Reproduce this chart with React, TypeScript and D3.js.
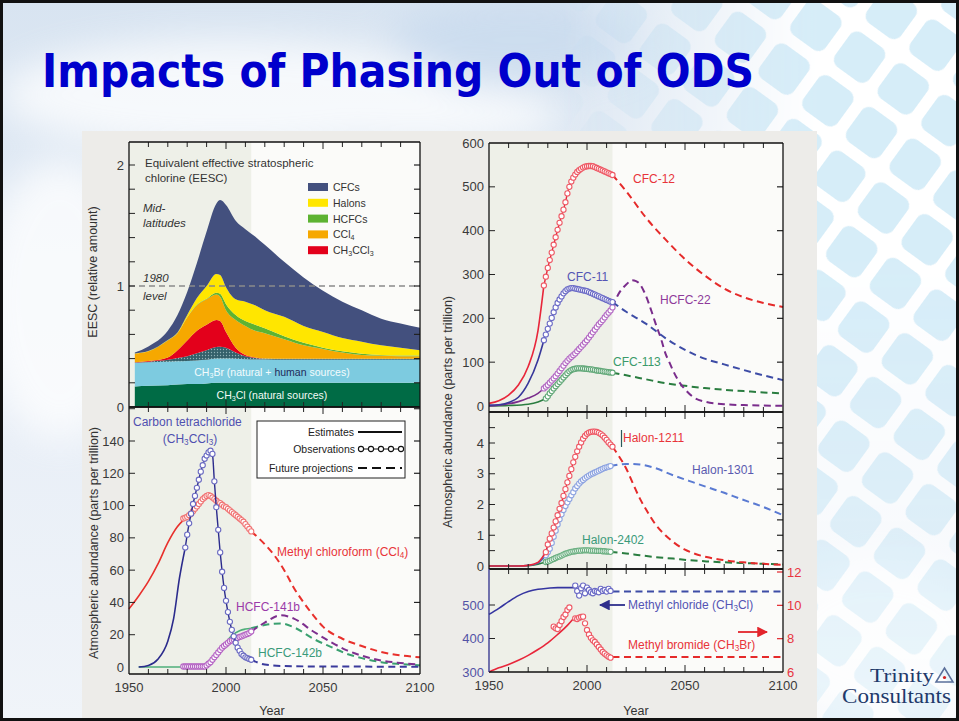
import React from 'react';
import * as d3 from 'd3';

type Pt = [number, number];

const W = 959;
const H = 721;
const FONT = "'Liberation Sans', Arial, Helvetica, sans-serif";

// ---------- EESC (mid-latitudes), cumulative top of each layer ----------
const eescYears = [1953, 1960, 1970, 1975, 1980, 1985, 1990, 1995, 1997, 2000, 2005, 2010, 2015, 2020, 2030, 2040, 2050, 2060, 2070, 2080, 2090, 2100];
const eescCH3Cl = [0.17, 0.175, 0.18, 0.185, 0.19, 0.19, 0.195, 0.2, 0.2, 0.2, 0.2, 0.2, 0.2, 0.2, 0.2, 0.2, 0.2, 0.2, 0.2, 0.2, 0.2, 0.2];
const eescCH3Br = [0.365, 0.37, 0.375, 0.378, 0.38, 0.385, 0.39, 0.4, 0.4, 0.4, 0.398, 0.395, 0.393, 0.392, 0.39, 0.39, 0.39, 0.39, 0.39, 0.39, 0.39, 0.39];
const eescOther = [0.368, 0.375, 0.39, 0.405, 0.42, 0.445, 0.47, 0.495, 0.497, 0.49, 0.45, 0.42, 0.405, 0.4, 0.398, 0.398, 0.398, 0.398, 0.398, 0.398, 0.398, 0.398];
const eescCH3CCl3 = [0.37, 0.38, 0.41, 0.47, 0.55, 0.63, 0.68, 0.72, 0.71, 0.62, 0.49, 0.43, 0.41, 0.4, 0.398, 0.398, 0.398, 0.398, 0.398, 0.398, 0.398, 0.398];
const eescCCl4 = [0.44, 0.46, 0.55, 0.61, 0.74, 0.84, 0.89, 0.93, 0.91, 0.8, 0.72, 0.67, 0.63, 0.61, 0.56, 0.51, 0.48, 0.45, 0.43, 0.425, 0.42, 0.42];
const eescHCFC = [0.441, 0.461, 0.551, 0.611, 0.742, 0.845, 0.895, 0.945, 0.935, 0.85, 0.76, 0.71, 0.68, 0.65, 0.585, 0.53, 0.49, 0.46, 0.44, 0.43, 0.425, 0.425];
const eescHalon = [0.442, 0.462, 0.553, 0.615, 0.76, 0.9, 1.0, 1.1, 1.09, 0.99, 0.89, 0.87, 0.84, 0.8, 0.745, 0.67, 0.62, 0.57, 0.54, 0.51, 0.49, 0.47];
const eescCFC = [0.45, 0.5, 0.63, 0.76, 0.95, 1.19, 1.45, 1.68, 1.71, 1.67, 1.54, 1.47, 1.41, 1.34, 1.2, 1.07, 0.96, 0.87, 0.8, 0.73, 0.69, 0.655];

// ---------- lower-left panel (ppt) ----------
const ccl4Est: Pt[] = [[1955, 0], [1960, 1], [1965, 5], [1970, 16], [1973, 30], [1976, 55], [1979, 74]];
const ccl4ObsStart = 1979;
const ccl4Obs = [74, 82, 89, 95, 101, 106, 111, 116, 121, 125, 129, 131, 133, 134, 132, 115, 99, 85, 71, 59, 49, 41, 34, 28, 23, 19, 15, 12, 10, 8, 7, 6, 5.5, 5, 4.5];
const ccl4Proj: Pt[] = [[2013, 4.5], [2020, 1.5], [2030, 0.6], [2050, 0.3], [2100, 0.2]];

const mcfEst: Pt[] = [[1950, 36], [1955, 44], [1960, 53], [1965, 64], [1970, 77], [1975, 87], [1978, 91]];
const mcfObsStart = 1978;
const mcfObs = [92, 92.5, 93, 94, 95, 96.5, 98, 99.5, 101, 102.5, 104, 105, 106, 106.5, 106, 105, 104, 103, 102, 101.5, 100.5, 99.5, 99, 98, 97, 96, 95, 94, 93, 92, 91, 90, 88.5, 87, 85.5, 84];
const mcfProj: Pt[] = [[2013, 84], [2020, 76], [2025, 69], [2030, 60], [2035, 49], [2040, 40], [2045, 32], [2050, 25], [2060, 17.5], [2070, 13], [2080, 9.3], [2090, 7.2], [2100, 6]];

const h141bObsStart = 1978;
const h141bObs = [0.3, 0.3, 0.3, 0.3, 0.3, 0.3, 0.3, 0.3, 0.3, 0.3, 0.3, 0.3, 1, 2, 3, 4.5, 6, 7.5, 9, 10.5, 12, 13, 14, 15, 16, 16.5, 17, 17.5, 18, 18.6, 19, 19.5, 20, 20.5, 21, 22];
const h141bProj: Pt[] = [[2013, 22], [2020, 27.5], [2028, 32], [2035, 30], [2045, 22], [2054, 15.5], [2062, 10.5], [2070, 7], [2080, 4], [2090, 2.5], [2100, 1.5]];
const h142bEst: Pt[] = [[1955, 0], [1985, 0], [1990, 0.5], [1992, 1.5], [1995, 7], [1998, 12.5], [2000, 15.5], [2003, 19.5], [2007, 22.5], [2010, 23.5], [2013, 24]];
const h142bProj: Pt[] = [[2013, 24], [2020, 26], [2028, 27], [2036, 24], [2045, 17.5], [2054, 12.5], [2062, 8.3], [2070, 5.5], [2080, 3], [2090, 1.8], [2100, 1]];

// ---------- upper-right panel (ppt) ----------
const cfc12Est: Pt[] = [[1950, 6], [1955, 12], [1960, 25], [1965, 48], [1970, 90], [1975, 172], [1978, 275]];
const cfc12ObsStart = 1978;
const cfc12Obs = [275, 295, 315, 333, 350, 368, 385, 402, 418, 433, 448, 465, 485, 500, 512, 521, 528, 534, 538, 541, 544, 546, 547, 547.5, 547.5, 547, 545, 543, 541, 539, 537, 535, 533, 531, 529, 527];
const cfc12Proj: Pt[] = [[2013, 527], [2020, 490], [2030, 430], [2040, 380], [2050, 335], [2060, 298], [2070, 268], [2080, 248], [2090, 235], [2100, 226]];

const cfc11Est: Pt[] = [[1950, 2], [1955, 3], [1960, 8], [1965, 20], [1970, 52], [1975, 105], [1978, 150]];
const cfc11ObsStart = 1978;
const cfc11Obs = [150, 163, 176, 188, 201, 214, 225, 235, 243, 250, 257, 262, 266, 268, 269, 269, 268, 267, 266, 265, 264, 263, 262, 260, 258, 256, 254, 252, 250, 248, 246, 244, 242, 240, 238, 237];
const cfc11Proj: Pt[] = [[2013, 237], [2020, 215], [2030, 188], [2040, 155], [2050, 128], [2060, 108], [2070, 95], [2080, 82], [2090, 70], [2100, 59]];

const hcfc22Est: Pt[] = [[1950, 0], [1955, 2], [1960, 5], [1965, 10], [1970, 18], [1975, 29], [1978, 40]];
const hcfc22ObsStart = 1978;
const hcfc22Obs = [40, 44, 48, 53, 58, 63, 68, 74, 80, 86, 92, 98, 103, 108, 112, 116, 120, 125, 130, 135, 140, 145, 150, 156, 162, 168, 174, 180, 186, 191, 196, 202, 208, 213, 218, 225];
const hcfc22Proj: Pt[] = [[2013, 225], [2016, 255], [2020, 277], [2023, 287], [2025, 285], [2027, 278], [2030, 252], [2033, 215], [2035, 188], [2038, 150], [2040, 120], [2042, 100], [2044, 80], [2047, 55], [2050, 38], [2054, 21], [2060, 10], [2070, 4], [2080, 2], [2090, 1], [2100, 0.5]];

const cfc113Est: Pt[] = [[1950, 0], [1960, 1], [1970, 4], [1975, 9], [1979, 17]];
const cfc113ObsStart = 1979;
const cfc113Obs = [17, 22, 29, 34, 40, 45, 50, 55, 60, 65, 70, 75, 79, 82, 84, 85, 86, 86, 86, 85.5, 85, 84.5, 84, 83.5, 83, 82, 81, 80.5, 80, 79, 78.5, 78, 77, 76.5, 76];
const cfc113Proj: Pt[] = [[2013, 76], [2020, 70], [2030, 61], [2040, 52], [2050, 46], [2060, 41], [2070, 37], [2080, 34], [2090, 31], [2100, 29]];

// ---------- middle-right panel: halons (ppt) ----------
const h1211Est: Pt[] = [[1950, 0], [1965, 0], [1970, 0.02], [1975, 0.12], [1979, 0.45]];
const h1211ObsStart = 1979;
const h1211Obs = [0.45, 0.7, 0.89, 1.06, 1.25, 1.45, 1.65, 1.86, 2.05, 2.28, 2.5, 2.72, 2.93, 3.15, 3.37, 3.55, 3.73, 3.88, 4.02, 4.14, 4.23, 4.3, 4.34, 4.36, 4.37, 4.37, 4.36, 4.33, 4.29, 4.24, 4.17, 4.1, 4.02, 3.95, 3.88];
const h1211Proj: Pt[] = [[2013, 3.88], [2016, 3.6], [2020, 3.17], [2024, 2.6], [2027, 2.19], [2030, 1.85], [2035, 1.35], [2040, 1.0], [2044, 0.78], [2050, 0.53], [2055, 0.4], [2061, 0.29], [2070, 0.19], [2078, 0.13], [2090, 0.07], [2100, 0.04]];

const h1301Est: Pt[] = [[1950, 0], [1965, 0], [1970, 0.02], [1975, 0.1], [1979, 0.35]];
const h1301ObsStart = 1979;
const h1301Obs = [0.35, 0.45, 0.56, 0.75, 0.95, 1.15, 1.35, 1.52, 1.68, 1.82, 1.95, 2.07, 2.18, 2.3, 2.4, 2.52, 2.6, 2.68, 2.75, 2.8, 2.85, 2.9, 2.94, 2.98, 3.01, 3.04, 3.07, 3.1, 3.13, 3.16, 3.19, 3.21, 3.23, 3.25];
const h1301Proj: Pt[] = [[2012, 3.25], [2020, 3.32], [2027, 3.3], [2035, 3.18], [2044, 2.95], [2052, 2.77], [2061, 2.57], [2070, 2.38], [2078, 2.19], [2090, 1.92], [2100, 1.65]];

const h2402Est: Pt[] = [[1950, 0], [1965, 0], [1970, 0.01], [1975, 0.06], [1979, 0.13]];
const h2402ObsStart = 1979;
const h2402Obs = [0.13, 0.15, 0.17, 0.2, 0.23, 0.26, 0.29, 0.31, 0.34, 0.37, 0.4, 0.42, 0.44, 0.46, 0.47, 0.48, 0.49, 0.5, 0.5, 0.51, 0.51, 0.51, 0.51, 0.5, 0.5, 0.5, 0.49, 0.49, 0.49, 0.48, 0.48, 0.47, 0.47, 0.46];
const h2402Proj: Pt[] = [[2012, 0.46], [2020, 0.41], [2027, 0.35], [2035, 0.29], [2044, 0.24], [2052, 0.19], [2061, 0.15], [2070, 0.12], [2078, 0.1], [2090, 0.07], [2100, 0.05]];

// ---------- lower-right panel: methyl chloride (left axis) / methyl bromide (right axis) ----------
const mclEst: Pt[] = [[1950, 472], [1955, 490], [1960, 510], [1965, 528], [1970, 540], [1975, 547], [1980, 550], [1985, 552], [1994, 552]];
const mclObsStart = 1994;
const mclObs = [558, 542, 528, 550, 558, 535, 552, 545, 538, 535, 542, 540, 538, 548, 542, 545, 540, 548, 542];
const mclProj: Pt[] = [[2013, 540], [2100, 540]];

const mbrEst: Pt[] = [[1950, 6.0], [1955, 6.25], [1960, 6.45], [1965, 6.7], [1970, 7.0], [1975, 7.35], [1980, 7.75], [1985, 8.25], [1990, 8.8], [1993, 9.2]];
const mbrObs: Pt[] = [[1983, 8.72], [1984, 8.62], [1985, 8.58], [1986, 8.82], [1987, 9.05], [1988, 9.3], [1989, 9.45], [1990, 9.72], [1991, 9.87], [1994, 9.22], [1995, 9.18], [1996, 9.26], [1997, 9.3], [1998, 9.32], [1999, 8.92], [2000, 8.52], [2001, 8.25], [2002, 8.05], [2003, 7.9], [2004, 7.8], [2005, 7.65], [2006, 7.5], [2007, 7.35], [2008, 7.2], [2009, 7.1], [2010, 7.0], [2011, 6.92], [2012, 6.86]];
const mbrProj: Pt[] = [[2013, 6.9], [2100, 6.9]];

const xTickYears = d3.range(1950, 2101, 10);
const xLabelYears = [1950, 2000, 2050, 2100];
const SHADE_END = 2013;

const fromYear = (start: number, vals: number[]): Pt[] => vals.map((v, i) => [start + i, v]);

// scales
const xL = d3.scaleLinear().domain([1950, 2100]).range([129, 420]);
const xR = d3.scaleLinear().domain([1950, 2100]).range([489, 783]);
const yEESC = d3.scaleLinear().domain([0, 2]).range([407, 165]);
const yBL = d3.scaleLinear().domain([0, 140]).range([667, 441]);
const yRT = d3.scaleLinear().domain([0, 600]).range([406, 143]);
const yRM = d3.scaleLinear().domain([0, 4]).range([566, 443]);
const yRBl = d3.scaleLinear().domain([300, 500]).range([672, 605]);
const yRBr = d3.scaleLinear().domain([6, 12]).range([672, 572]);

type Scale = d3.ScaleLinear<number, number>;

function Panel({ x, top, bottom }: { x: Scale; top: number; bottom: number }) {
  const [x0, x1] = x.range();
  const xs = x(SHADE_END);
  return (
    <g>
      <rect x={x0} y={top} width={xs - x0} height={bottom - top} fill="#eef0e8" />
      <rect x={xs} y={top} width={x1 - xs} height={bottom - top} fill="#fbfbf9" />
    </g>
  );
}

function Frame({ x, top, bottom, yTicks = [], yTicksRight, rightTickColor = '#222', leftColor = '#111' }: {
  x: Scale; top: number; bottom: number; yTicks?: number[]; yTicksRight?: number[]; rightTickColor?: string; leftColor?: string;
}) {
  const [x0, x1] = x.range();
  const right = yTicksRight ?? yTicks;
  return (
    <g>
      {xTickYears.slice(1, -1).map(yr => {
        const len = yr % 50 === 0 ? 7 : 5;
        return (
          <g key={yr}>
            <line x1={x(yr)} x2={x(yr)} y1={top} y2={top + len} stroke="#222" strokeWidth={1} />
            <line x1={x(yr)} x2={x(yr)} y1={bottom} y2={bottom - len} stroke="#222" strokeWidth={1} />
          </g>
        );
      })}
      {yTicks.map((py, i) => (
        <line key={'l' + i} x1={x0} x2={x0 + 6} y1={py} y2={py} stroke="#222" strokeWidth={1} />
      ))}
      {right.map((py, i) => (
        <line key={'r' + i} x1={x1} x2={x1 - 6} y1={py} y2={py} stroke={rightTickColor} strokeWidth={1.2} />
      ))}
      <line x1={x0} x2={x1} y1={top} y2={top} stroke="#111" strokeWidth={1.3} />
      <line x1={x0} x2={x1} y1={bottom} y2={bottom} stroke="#111" strokeWidth={1.3} />
      <line x1={x0} x2={x0} y1={top} y2={bottom} stroke={leftColor} strokeWidth={1.3} />
      <line x1={x1} x2={x1} y1={top} y2={bottom} stroke="#111" strokeWidth={1.3} />
    </g>
  );
}

function Series({ x, y, est, obs, proj, color, obsColor, projColor, obsLine = true }: {
  x: Scale; y: Scale; est?: Pt[]; obs?: Pt[]; proj?: Pt[]; color: string; obsColor: string; projColor?: string; obsLine?: boolean;
}) {
  const line = d3.line<Pt>().x(d => x(d[0])).y(d => y(d[1])).curve(d3.curveMonotoneX);
  return (
    <g>
      {proj && <path d={line(proj) ?? ''} fill="none" stroke={projColor ?? color} strokeWidth={2} strokeDasharray="7 4.5" />}
      {est && <path d={line(est) ?? ''} fill="none" stroke={color} strokeWidth={1.6} />}
      {obs && obsLine && <path d={line(obs) ?? ''} fill="none" stroke={color} strokeWidth={1.4} />}
      {obs && obs.map((d, i) => (
        <circle key={i} cx={x(d[0])} cy={y(d[1])} r={2.6} fill="#fff" stroke={obsColor} strokeWidth={1.1} />
      ))}
    </g>
  );
}

const Sub = ({ children }: { children: React.ReactNode }) => (
  <tspan fontSize="0.68em" dy="0.25em">{children}</tspan>
);
const Up = ({ children }: { children: React.ReactNode }) => <tspan dy="-0.17em">{children}</tspan>;

export default function App() {
  const eescLayers = [
    { top: eescCH3Cl, fill: '#006b45' },
    { top: eescCH3Br, fill: '#7dcbe0' },
    { top: eescOther, fill: 'url(#hatch)' },
    { top: eescCH3CCl3, fill: '#e3001b' },
    { top: eescCCl4, fill: '#f6a800' },
    { top: eescHCFC, fill: '#5db332' },
    { top: eescHalon, fill: '#ffe600' },
    { top: eescCFC, fill: '#43507e' },
  ];
  const eescLegend = [
    { label: 'CFCs', fill: '#43507e' },
    { label: 'Halons', fill: '#ffe600' },
    { label: 'HCFCs', fill: '#5db332' },
    { label: 'CCl', sub: '4', fill: '#f6a800' },
    { label: 'CH', sub: '3', rest: 'CCl', sub2: '3', fill: '#e3001b' },
  ];

  const tickText = { fontFamily: FONT, fontSize: 13, fill: '#3a3a3a' } as const;

  return (
    <div style={{ position: 'absolute', left: 0, top: 0, width: W, height: H }}>
      <svg width={W} height={H} viewBox={`0 0 ${W} ${H}`} style={{ display: 'block' }}>
        <defs>
          <linearGradient id="sky" x1="0" y1="0" x2="0" y2="1">
            <stop offset="0" stopColor="#d8e4f1" />
            <stop offset="0.45" stopColor="#e6edf6" />
            <stop offset="1" stopColor="#f0f4f9" />
          </linearGradient>
          <filter id="blur" x="-50%" y="-50%" width="200%" height="200%">
            <feGaussianBlur stdDeviation="18" />
          </filter>
          <pattern id="lattice" width="54" height="54" patternUnits="userSpaceOnUse" patternTransform="rotate(36)">
            <rect width="54" height="54" fill="#ffffff" />
            <rect x="6" y="6" width="42" height="42" rx="9" fill="#d6edf8" />
          </pattern>
          <linearGradient id="latFade" x1="560" y1="0" x2="820" y2="0" gradientUnits="userSpaceOnUse">
            <stop offset="0" stopColor="#fff" stopOpacity="0" />
            <stop offset="1" stopColor="#fff" stopOpacity="1" />
          </linearGradient>
          <linearGradient id="latFadeV" x1="0" y1="250" x2="0" y2="700" gradientUnits="userSpaceOnUse">
            <stop offset="0" stopColor="#000" stopOpacity="0" />
            <stop offset="1" stopColor="#000" stopOpacity="0.55" />
          </linearGradient>
          <mask id="latMask">
            <rect x="0" y="0" width={W} height={H} fill="url(#latFade)" />
            <rect x="0" y="0" width={W} height={H} fill="url(#latFadeV)" />
          </mask>
          <pattern id="hatch" width="3" height="3" patternUnits="userSpaceOnUse">
            <rect width="3" height="3" fill="#34606a" />
            <circle cx="1.5" cy="1.5" r="0.65" fill="#8fb1b6" />
          </pattern>
          <marker id="arrowBlue" viewBox="0 0 10 10" refX="9" refY="5" markerWidth="6" markerHeight="6" orient="auto">
            <path d="M0,0 L10,5 L0,10 z" fill="#2e2e8c" />
          </marker>
          <marker id="arrowRed" viewBox="0 0 10 10" refX="9" refY="5" markerWidth="6" markerHeight="6" orient="auto">
            <path d="M0,0 L10,5 L0,10 z" fill="#e3242b" />
          </marker>
        </defs>

        {/* slide background */}
        <rect x={0} y={0} width={W} height={H} fill="url(#sky)" />
        <g filter="url(#blur)" opacity={0.75}>
          <ellipse cx={230} cy={95} rx={230} ry={55} fill="#ffffff" />
          <ellipse cx={520} cy={40} rx={130} ry={40} fill="#c8daee" />
          <ellipse cx={60} cy={300} rx={80} ry={140} fill="#ffffff" />
          <ellipse cx={420} cy={115} rx={140} ry={30} fill="#ffffff" />
          <ellipse cx={880} cy={640} rx={110} ry={80} fill="#ffffff" />
        </g>
        <rect x={540} y={0} width={W - 540} height={H} fill="url(#lattice)" mask="url(#latMask)" />

        {/* title */}
        <text x={42} y={87} fontFamily="'DejaVu Sans Condensed', 'DejaVu Sans', sans-serif" fontWeight="bold"
          fontSize={47} fill="#0000cc" textLength={712} lengthAdjust="spacingAndGlyphs">
          Impacts of Phasing Out of ODS
        </text>

        {/* figure backdrop */}
        <rect x={82} y={131} width={735} height={590} fill="#edece9" />

        {/* panel backgrounds */}
        <Panel x={xL} top={142} bottom={407} />
        <Panel x={xL} top={407} bottom={674} />
        <Panel x={xR} top={143} bottom={412} />
        <Panel x={xR} top={412} bottom={569} />
        <Panel x={xR} top={569} bottom={672} />

        {/* EESC stacked areas */}
        <g>
          {eescLayers.map((layer, li) => {
            const prev = li === 0 ? null : eescLayers[li - 1].top;
            const area = d3.area<number>()
              .x((_, i) => xL(eescYears[i]))
              .y0((_, i) => yEESC(prev ? prev[i] : 0))
              .y1(d => yEESC(d))
              .curve(d3.curveMonotoneX);
            return <path key={li} d={area(layer.top) ?? ''} fill={layer.fill} />;
          })}
        </g>
        <line x1={xL(1950)} x2={xL(2100)} y1={yEESC(1)} y2={yEESC(1)} stroke="#8a8a8a" strokeWidth={1.3} strokeDasharray="6 4" />

        {/* lower-left series */}
        <Series x={xL} y={yBL} est={h142bEst} proj={h142bProj} color="#4fae7a" obsColor="#4fae7a" projColor="#3aa070" />
        <Series x={xL} y={yBL} obs={fromYear(h141bObsStart, h141bObs)} proj={h141bProj} color="#8d3b9b" obsColor="#b565c4" projColor="#7d2f8e" />
        <Series x={xL} y={yBL} est={mcfEst} obs={fromYear(mcfObsStart, mcfObs)} proj={mcfProj} color="#e8302c" obsColor="#f07474" />
        <Series x={xL} y={yBL} est={ccl4Est} obs={fromYear(ccl4ObsStart, ccl4Obs)} proj={ccl4Proj} color="#2b2b8c" obsColor="#6b6bc2" projColor="#3a3a9c" />

        {/* upper-right series */}
        <Series x={xR} y={yRT} est={cfc113Est} obs={fromYear(cfc113ObsStart, cfc113Obs)} proj={cfc113Proj} color="#2a7d40" obsColor="#62a878" />
        <Series x={xR} y={yRT} est={hcfc22Est} obs={fromYear(hcfc22ObsStart, hcfc22Obs)} proj={hcfc22Proj} color="#7a2d8c" obsColor="#b46cc4" />
        <Series x={xR} y={yRT} est={cfc11Est} obs={fromYear(cfc11ObsStart, cfc11Obs)} proj={cfc11Proj} color="#37379a" obsColor="#6c6cc6" projColor="#3d4ca6" />
        <Series x={xR} y={yRT} est={cfc12Est} obs={fromYear(cfc12ObsStart, cfc12Obs)} proj={cfc12Proj} color="#e8263a" obsColor="#ee5a66" projColor="#e52a2a" />

        {/* middle-right series */}
        <Series x={xR} y={yRM} est={h2402Est} obs={fromYear(h2402ObsStart, h2402Obs)} proj={h2402Proj} color="#2a7d40" obsColor="#6cb082" />
        <Series x={xR} y={yRM} est={h1301Est} obs={fromYear(h1301ObsStart, h1301Obs)} proj={h1301Proj} color="#4a66c0" obsColor="#8ea4e0" projColor="#5a7ad2" />
        <Series x={xR} y={yRM} est={h1211Est} obs={fromYear(h1211ObsStart, h1211Obs)} proj={h1211Proj} color="#e8263a" obsColor="#ee5a66" projColor="#e52a2a" />

        {/* lower-right series */}
        <Series x={xR} y={yRBl} est={mclEst} obs={fromYear(mclObsStart, mclObs)} proj={mclProj} color="#3535a0" obsColor="#6c6cc6" projColor="#3d4ca6" obsLine={false} />
        <Series x={xR} y={yRBr} est={mbrEst} obs={mbrObs} proj={mbrProj} color="#e8263a" obsColor="#ee5a66" projColor="#e52a2a" obsLine={false} />

        {/* frames and ticks */}
        <Frame x={xL} top={142} bottom={407} yTicks={d3.range(0.2, 2.01, 0.2).map(v => yEESC(v))} />
        <Frame x={xL} top={407} bottom={674} yTicks={d3.range(20, 161, 20).map(v => yBL(v))} />
        <Frame x={xR} top={143} bottom={412} yTicks={d3.range(100, 501, 100).map(v => yRT(v))} />
        <Frame x={xR} top={412} bottom={569} yTicks={d3.range(0.5, 4.51, 0.5).map(v => yRM(v))} />
        <Frame x={xR} top={569} bottom={672} yTicks={[400, 500].map(v => yRBl(v))}
          yTicksRight={[8, 10, 12].map(v => yRBr(v))} rightTickColor="#e3242b" leftColor="#2e2e8c" />

        {/* y tick labels */}
        {[0, 1, 2].map(v => (
          <text key={'e' + v} x={124} y={yEESC(v) + 4.5} textAnchor="end" {...tickText}>{v}</text>
        ))}
        {d3.range(0, 141, 20).map(v => (
          <text key={'bl' + v} x={124} y={yBL(v) + 4.5} textAnchor="end" {...tickText}>{v}</text>
        ))}
        {d3.range(0, 601, 100).map(v => (
          <text key={'rt' + v} x={484} y={yRT(v) + 4.5} textAnchor="end" {...tickText}>{v}</text>
        ))}
        {d3.range(0, 5, 1).map(v => (
          <text key={'rm' + v} x={484} y={yRM(v) + 4.5} textAnchor="end" {...tickText}>{v}</text>
        ))}
        {[300, 400, 500].map(v => (
          <text key={'rbl' + v} x={484} y={yRBl(v) + 4.5} textAnchor="end" {...tickText} fill="#5353a6">{v}</text>
        ))}
        {[6, 8, 10, 12].map(v => (
          <text key={'rbr' + v} x={787} y={yRBr(v) + 4.5} textAnchor="start" {...tickText} fill="#e8343f">{v}</text>
        ))}

        {/* x tick labels */}
        {xLabelYears.map(yr => (
          <text key={'xl' + yr} x={xL(yr)} y={692} textAnchor="middle" {...tickText}>{yr}</text>
        ))}
        {xLabelYears.map(yr => (
          <text key={'xr' + yr} x={xR(yr)} y={690} textAnchor="middle" {...tickText}>{yr}</text>
        ))}
        <text x={272} y={715} textAnchor="middle" fontFamily={FONT} fontSize={12.5} fill="#333">Year</text>
        <text x={636} y={715} textAnchor="middle" fontFamily={FONT} fontSize={12.5} fill="#333">Year</text>

        {/* axis titles */}
        <text transform="translate(97,272) rotate(-90)" textAnchor="middle" fontFamily={FONT} fontSize={12.5} fill="#333">EESC (relative amount)</text>
        <text transform="translate(98,543) rotate(-90)" textAnchor="middle" fontFamily={FONT} fontSize={12.5} fill="#333">Atmospheric abundance (parts per trillion)</text>
        <text transform="translate(452,412) rotate(-90)" textAnchor="middle" fontFamily={FONT} fontSize={12.5} fill="#333">Atmospheric abundance (parts per trillion)</text>

        {/* EESC panel annotations */}
        <g fontFamily={FONT} fill="#333">
          <text x={145} y={167} fontSize={11.5}>Equivalent effective stratospheric</text>
          <text x={145} y={182} fontSize={11.5}>chlorine (EESC)</text>
          <text x={143} y={212} fontSize={11.5} fontStyle="italic">Mid-</text>
          <text x={143} y={227} fontSize={11.5} fontStyle="italic">latitudes</text>
          <text x={143} y={282} fontSize={11.5} fontStyle="italic">1980</text>
          <text x={143} y={300} fontSize={11.5} fontStyle="italic">level</text>
          {eescLegend.map((d, i) => (
            <g key={d.label + i}>
              <rect x={308} y={183 + i * 15.8} width={20} height={8} fill={d.fill} />
              <text x={333} y={191 + i * 15.8} fontSize={10.5}>
                {d.label}
                {d.sub && <Sub>{d.sub}</Sub>}
                {d.rest && <Up>{d.rest}</Up>}
                {d.sub2 && <Sub>{d.sub2}</Sub>}
              </text>
            </g>
          ))}
        </g>
        <text x={272} y={376} textAnchor="middle" fontFamily={FONT} fontSize={10.5} fill="#f4fbfd">
          CH<Sub>3</Sub><Up>Br (natural + </Up><tspan fill="#1e2a5a">human</tspan> sources)
        </text>
        <text x={272} y={399} textAnchor="middle" fontFamily={FONT} fontSize={10.5} fill="#f4fbf7">
          CH<Sub>3</Sub><Up>Cl (natural sources)</Up>
        </text>

        {/* lower-left annotations */}
        <g fontFamily={FONT} fontSize={12}>
          <text x={133} y={426} fill="#5050b0">Carbon tetrachloride</text>
          <text x={190} y={443} textAnchor="middle" fill="#5050b0">(CH<Sub>3</Sub><Up>CCl</Up><Sub>3</Sub><Up>)</Up></text>
          <text x={277} y={556} fill="#e8343a">Methyl chloroform (CCl<Sub>4</Sub><Up>)</Up></text>
          <text x={236} y={611} fill="#9a3aa8">HCFC-141b</text>
          <text x={258} y={657} fill="#3a9a7a">HCFC-142b</text>
        </g>
        <g fontFamily={FONT} fontSize={10.5} fill="#222">
          <rect x={257} y={421} width={148} height={57} fill="#fff" stroke="#222" strokeWidth={1} />
          <text x={354} y={436} textAnchor="end">Estimates</text>
          <line x1={358} x2={402} y1={432} y2={432} stroke="#111" strokeWidth={2.2} />
          <text x={355} y={453} textAnchor="end">Observations</text>
          <line x1={359} x2={402} y1={449} y2={449} stroke="#111" strokeWidth={1.2} />
          {[0, 1, 2, 3, 4].map(i => (
            <circle key={i} cx={361 + i * 10} cy={449} r={2.6} fill="#fff" stroke="#111" strokeWidth={1.1} />
          ))}
          <text x={353} y={472} textAnchor="end">Future projections</text>
          <line x1={358} x2={402} y1={468} y2={468} stroke="#111" strokeWidth={2.2} strokeDasharray="9 5" />
        </g>

        {/* right annotations */}
        <g fontFamily={FONT} fontSize={12}>
          <text x={633} y={183} fill="#e8343a">CFC-12</text>
          <text x={567} y={281} fill="#5454b4">CFC-11</text>
          <text x={660} y={304} fill="#8e3a9a">HCFC-22</text>
          <text x={613} y={366} fill="#3a9a6a">CFC-113</text>
          <line x1={621.5} x2={621.5} y1={430} y2={447} stroke="#2a5a5a" strokeWidth={1.2} />
          <text x={623} y={442} fill="#e8343a">Halon-1211</text>
          <text x={692} y={474} fill="#5a5ab0">Halon-1301</text>
          <text x={582} y={544} fill="#3a9a7a">Halon-2402</text>
          <line x1={625} x2={600} y1={605} y2={605} stroke="#2e2e8c" strokeWidth={1.8} markerEnd="url(#arrowBlue)" />
          <text x={628} y={609} fill="#5454b4">Methyl chloride (CH<Sub>3</Sub><Up>Cl)</Up></text>
          <line x1={738} x2={767} y1={632} y2={632} stroke="#e3242b" strokeWidth={1.8} markerEnd="url(#arrowRed)" />
          <text x={628} y={649} fill="#e8343a">Methyl bromide (CH<Sub>3</Sub><Up>Br)</Up></text>
        </g>

        {/* logo */}
        <g fill="#1f3a6b" fontFamily="'Liberation Serif', 'DejaVu Serif', serif">
          <text x={870} y={682} fontSize={19} textLength={64} lengthAdjust="spacingAndGlyphs">Trinity</text>
          <polygon points="936,682 944.5,668 953,682" fill="none" stroke="#5a6f9a" strokeWidth={1.5} />
          <circle cx={944.5} cy={677.5} r={1.6} fill="#d02020" />
          <text x={842} y={703} fontSize={21} textLength={109} lengthAdjust="spacingAndGlyphs">Consultants</text>
        </g>

        {/* slide border */}
        <rect x={1.5} y={1.5} width={W - 3} height={H - 3} fill="none" stroke="#111" strokeWidth={3} />
      </svg>
    </div>
  );
}
